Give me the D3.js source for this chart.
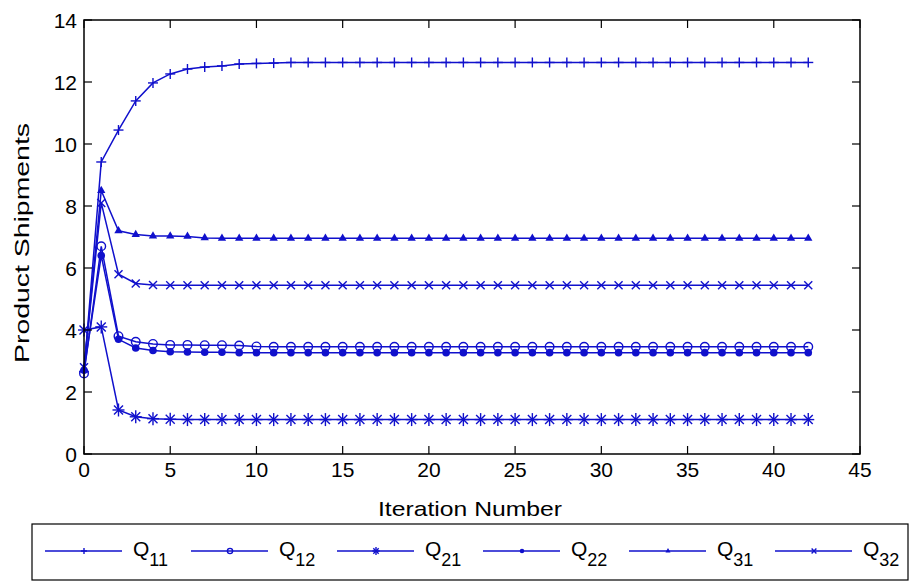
<!DOCTYPE html>
<html>
<head>
<meta charset="utf-8">
<script src="https://cdn.jsdelivr.net/npm/d3@7"></script>
<style>
  body { margin: 0; background: #fff; }
  svg { display: block; font-family: "Liberation Sans", Arial, sans-serif; }
</style>
</head>
<body>
<div id="chart"></div>
<script>
// Iterations 0..42
const iterations = d3.range(0, 43);

const q11 = [2.65, 9.42, 10.45, 11.39, 11.97, 12.26, 12.42, 12.48, 12.52, 12.58, 12.6, 12.61, 12.63,
  12.63, 12.63, 12.63, 12.63, 12.63, 12.63, 12.63, 12.63, 12.63, 12.63, 12.63, 12.63, 12.63, 12.63,
  12.63, 12.63, 12.63, 12.63, 12.63, 12.63, 12.63, 12.63, 12.63, 12.63, 12.63, 12.63, 12.63, 12.63, 12.63, 12.63];
const q12 = [2.6, 6.7, 3.8, 3.62, 3.55, 3.52, 3.52, 3.51, 3.51, 3.5, 3.47, 3.46, 3.46,
  3.46, 3.46, 3.46, 3.46, 3.46, 3.46, 3.46, 3.46, 3.46, 3.46, 3.46, 3.46, 3.46, 3.46,
  3.46, 3.46, 3.46, 3.46, 3.46, 3.46, 3.46, 3.46, 3.46, 3.46, 3.46, 3.46, 3.46, 3.46, 3.46, 3.46];
const q21 = [4.0, 4.1, 1.42, 1.2, 1.14, 1.12, 1.11, 1.11, 1.11, 1.11, 1.11, 1.11, 1.11,
  1.11, 1.11, 1.11, 1.11, 1.11, 1.11, 1.11, 1.11, 1.11, 1.11, 1.11, 1.11, 1.11, 1.11,
  1.11, 1.11, 1.11, 1.11, 1.11, 1.11, 1.11, 1.11, 1.11, 1.11, 1.11, 1.11, 1.11, 1.11, 1.11, 1.11];
const q22 = [2.7, 6.4, 3.7, 3.42, 3.34, 3.3, 3.29, 3.28, 3.28, 3.27, 3.27, 3.27, 3.27,
  3.27, 3.27, 3.27, 3.27, 3.27, 3.27, 3.27, 3.27, 3.27, 3.27, 3.27, 3.27, 3.27, 3.27,
  3.27, 3.27, 3.27, 3.27, 3.27, 3.27, 3.27, 3.27, 3.27, 3.27, 3.27, 3.27, 3.27, 3.27, 3.27, 3.27];
const q31 = [2.75, 8.5, 7.2, 7.08, 7.03, 7.03, 7.02, 6.97, 6.96, 6.96, 6.96, 6.96, 6.96,
  6.96, 6.96, 6.96, 6.96, 6.96, 6.96, 6.96, 6.96, 6.96, 6.96, 6.96, 6.96, 6.96, 6.96,
  6.96, 6.96, 6.96, 6.96, 6.96, 6.96, 6.96, 6.96, 6.96, 6.96, 6.96, 6.96, 6.96, 6.96, 6.96, 6.96];
const q32 = [2.8, 8.1, 5.8, 5.5, 5.45, 5.44, 5.44, 5.44, 5.44, 5.44, 5.44, 5.44, 5.44,
  5.44, 5.44, 5.44, 5.44, 5.44, 5.44, 5.44, 5.44, 5.44, 5.44, 5.44, 5.44, 5.44, 5.44,
  5.44, 5.44, 5.44, 5.44, 5.44, 5.44, 5.44, 5.44, 5.44, 5.44, 5.44, 5.44, 5.44, 5.44, 5.44, 5.44];

const seriesNames = ['11', '12', '21', '22', '31', '32'];
const seriesValues = [q11, q12, q21, q22, q31, q32];
const seriesMarkers = ['plus', 'circle', 'star', 'dot', 'tri', 'cross'];

const xTicks = [0, 5, 10, 15, 20, 25, 30, 35, 40, 45];
const yTicks = [0, 2, 4, 6, 8, 10, 12, 14];

const W = 912, H = 582;
const plot = { left: 84, right: 860, top: 20, bottom: 454 };
const blue = '#1010cc';

const svg = d3.select('#chart').append('svg').attr('width', W).attr('height', H);

const x = d3.scaleLinear().domain([0, 45]).range([plot.left, plot.right]);
const y = d3.scaleLinear().domain([0, 14]).range([plot.bottom, plot.top]);

// Marker drawing (k scales the marker, legend uses smaller ones)
function drawMarker(g, type, cx, cy, k = 1) {
  const m = g.append('g').attr('transform', `translate(${cx},${cy}) scale(${k})`);
  const line = (x1, y1, x2, y2) => m.append('line')
    .attr('x1', x1).attr('y1', y1).attr('x2', x2).attr('y2', y2)
    .attr('stroke', blue).attr('stroke-width', 1.4 / k);
  if (type === 'plus') {
    line(-5, 0, 5, 0); line(0, -5, 0, 5);
  } else if (type === 'circle') {
    m.append('circle').attr('r', 4.3).attr('fill', 'none').attr('stroke', blue).attr('stroke-width', 1.4 / k);
  } else if (type === 'star') {
    line(-6, 0, 6, 0); line(0, -6.5, 0, 6.5); line(-4.5, -4.5, 4.5, 4.5); line(-4.5, 4.5, 4.5, -4.5);
  } else if (type === 'dot') {
    m.append('circle').attr('r', 3.8).attr('fill', blue);
  } else if (type === 'tri') {
    m.append('path').attr('d', d3.symbol(d3.symbolTriangle, 30)()).attr('fill', blue);
  } else if (type === 'cross') {
    line(-4, -4, 4, 4); line(-4, 4, 4, -4);
  }
}

// Series
const lineGen = d3.line().x((d, i) => x(iterations[i])).y(d => y(d));
const gSeries = svg.append('g');
seriesValues.forEach((vals, si) => {
  gSeries.append('path')
    .attr('d', lineGen(vals))
    .attr('fill', 'none')
    .attr('stroke', blue)
    .attr('stroke-width', 1.5);
  const gm = gSeries.append('g');
  vals.forEach((v, i) => drawMarker(gm, seriesMarkers[si], x(iterations[i]), y(v)));
});

// Axes box
svg.append('rect')
  .attr('x', plot.left).attr('y', plot.top)
  .attr('width', plot.right - plot.left).attr('height', plot.bottom - plot.top)
  .attr('fill', 'none').attr('stroke', '#000').attr('stroke-width', 1.5);

const tickLen = 8;
const gTicks = svg.append('g').attr('stroke', '#000').attr('stroke-width', 1.2);
xTicks.forEach(t => {
  gTicks.append('line').attr('x1', x(t)).attr('x2', x(t)).attr('y1', plot.bottom).attr('y2', plot.bottom - tickLen);
  gTicks.append('line').attr('x1', x(t)).attr('x2', x(t)).attr('y1', plot.top).attr('y2', plot.top + tickLen);
});
yTicks.forEach(t => {
  gTicks.append('line').attr('x1', plot.left).attr('x2', plot.left + tickLen).attr('y1', y(t)).attr('y2', y(t));
  gTicks.append('line').attr('x1', plot.right).attr('x2', plot.right - tickLen).attr('y1', y(t)).attr('y2', y(t));
});

// Tick labels
svg.append('g').selectAll('text').data(xTicks).join('text')
  .attr('x', d => x(d)).attr('y', 477)
  .attr('text-anchor', 'middle')
  .style('font-size', '21px')
  .text(d => d);

svg.append('g').selectAll('text').data(yTicks).join('text')
  .attr('x', 77).attr('y', d => y(d) + 7.5)
  .attr('text-anchor', 'end')
  .style('font-size', '21px')
  .text(d => d);

// Axis labels
svg.append('text')
  .attr('x', 470).attr('y', 516)
  .attr('text-anchor', 'middle')
  .attr('textLength', 184).attr('lengthAdjust', 'spacingAndGlyphs')
  .style('font-size', '21px')
  .text('Iteration Number');

svg.append('text')
  .attr('transform', `translate(29,${243}) rotate(-90)`)
  .attr('text-anchor', 'middle')
  .attr('textLength', 240).attr('lengthAdjust', 'spacingAndGlyphs')
  .style('font-size', '21px')
  .text('Product Shipments');

// Legend
const legend = svg.append('g');
legend.append('rect')
  .attr('x', 32).attr('y', 524).attr('width', 876).attr('height', 56)
  .attr('fill', '#fff').attr('stroke', '#000').attr('stroke-width', 1.2);

const legendX = d3.scaleLinear().domain([0, 1]).range([45, 191]);
seriesNames.forEach((name, i) => {
  const x0 = legendX(i);
  legend.append('line')
    .attr('x1', x0).attr('x2', x0 + 77).attr('y1', 551).attr('y2', 551)
    .attr('stroke', blue).attr('stroke-width', 1.5);
  drawMarker(legend, seriesMarkers[i], x0 + 39, 551, 0.6);
  const t = legend.append('text').attr('x', x0 + 88).attr('y', 556).style('font-size', '21px');
  t.append('tspan').text('Q');
  t.append('tspan').attr('dy', 10).style('font-size', '18px').text(name);
});
</script>
</body>
</html>
